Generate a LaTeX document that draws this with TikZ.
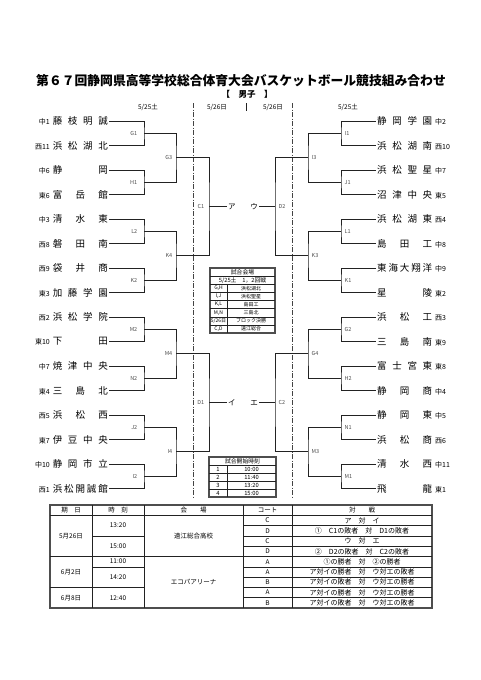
\documentclass[tikz,border=0pt]{standalone}
\usepackage{fontspec}
\setmainfont{Noto Sans CJK JP}
\usetikzlibrary{positioning}
\definecolor{ink}{HTML}{222222}
\definecolor{mute}{HTML}{4D4D4D}
\newcommand\spread[1]{\makebox[55pt][s]{#1}}
\newcommand\seed[1]{{\fontsize{7}{8}\selectfont #1}}

\begin{document}
\begin{tikzpicture}[x=1pt,y=-1pt,font=\fontsize{9.5}{11}\selectfont,
 lteam/.style={anchor=east,inner sep=1pt},
 rteam/.style={anchor=west,inner sep=1pt},
 tag/.style={font=\fontsize{5.5}{6}\selectfont,text=mute,inner sep=.5pt},
 link/.style={draw=ink,line width=.85pt},
 pool/.style={font=\fontsize{7.5}{8}\selectfont,inner sep=1pt},
 day/.style={font=\fontsize{6.5}{7}\selectfont},
 split/.style={draw=ink!85,line width=1pt,dash pattern=on 5pt off 1.5pt on 1pt off 1.5pt},
 frame/.style={draw=ink!80,line width=1.6pt},
 rule/.style={draw=ink,line width=.5pt},
 tiny/.style={font=\fontsize{5}{5.5}\selectfont,inner sep=0pt},
 small/.style={font=\fontsize{5.8}{6}\selectfont,inner sep=0pt},
 cell/.style={font=\fontsize{6.5}{7}\selectfont,inner sep=0pt},
 pair/.style={font=\fontsize{7}{8}\selectfont,inner sep=0pt}]
\path[use as bounding box] (0,0) rectangle (481,680);

\node[font=\bfseries\fontsize{12.8}{14}\selectfont] (title) at (241,81)
 {第６７回静岡県高等学校総合体育大会バスケットボール競技組み合わせ};
\node[font=\bfseries\fontsize{8.5}{10}\selectfont] (sex) at (247,94) {【\quad 男子\quad 】};
\node[day] (d1) at (148,107) {5/25土};
\node[day] (d2) at (217,107) {5/26日};
\node[day] (d3) at (273,107) {5/26日};
\node[day] (d4) at (348,107) {5/25土};
\draw[split] (193,103) -- (193,498);
\draw[split] (292,103) -- (292,498);
\draw[ink,line width=.6pt] (246,103) -- (246,111);

% teams
\foreach \i/\p/\n in {1/中1/藤\hfill 枝\hfill 明\hfill 誠,2/西11/浜\hfill 松\hfill 湖\hfill 北,
 3/中6/静\hfill 岡,4/東6/富\hfill 岳\hfill 館,5/中3/清\hfill 水\hfill 東,6/西8/磐\hfill 田\hfill 南,
 7/西9/袋\hfill 井\hfill 商,8/東3/加\hfill 藤\hfill 学\hfill 園,9/西2/浜\hfill 松\hfill 学\hfill 院,
 10/東10/下\hfill 田,11/中7/焼\hfill 津\hfill 中\hfill 央,12/東4/三\hfill 島\hfill 北,
 13/西5/浜\hfill 松\hfill 西,14/東7/伊\hfill 豆\hfill 中\hfill 央,15/中10/静\hfill 岡\hfill 市\hfill 立,
 16/西1/浜\hfill 松\hfill 開\hfill 誠\hfill 館}
 \node[lteam] (L\i) at (109,{121+(\i-1)*24.5}) {\seed{\p}\hspace{3pt}\spread{\n}};
\foreach \i/\p/\n in {1/中2/静\hfill 岡\hfill 学\hfill 園,2/西10/浜\hfill 松\hfill 湖\hfill 南,
 3/中7/浜\hfill 松\hfill 聖\hfill 星,4/東5/沼\hfill 津\hfill 中\hfill 央,5/西4/浜\hfill 松\hfill 湖\hfill 東,
 6/中8/島\hfill 田\hfill 工,7/中9/東\hfill 海\hfill 大\hfill 翔\hfill 洋,8/東2/星\hfill 陵,
 9/西3/浜\hfill 松\hfill 工,10/東9/三\hfill 島\hfill 南,11/東8/富\hfill 士\hfill 宮\hfill 東,
 12/中4/静\hfill 岡\hfill 商,13/中5/静\hfill 岡\hfill 東,14/西6/浜\hfill 松\hfill 商,
 15/中11/清\hfill 水\hfill 西,16/東1/飛\hfill 龍}
 \node[rteam] (R\i) at (376,{121+(\i-1)*24.5}) {\spread{\n}\hspace{3pt}\seed{\p}};

% left bracket
\foreach \k/\t in {1/G1,2/H1,3/L2,4/K2,5/M2,6/N2,7/J2,8/I2}{
 \pgfmathtruncatemacro\a{2*\k-1}\pgfmathtruncatemacro\b{2*\k}
 \coordinate (\t) at (144,{133.25+(\k-1)*49});
 \draw[link] (L\a.east) -| (\t) |- (L\b.east);
 \node[tag,left=6pt] (t\t) at (\t) {\t};
}
\foreach \k/\t/\u/\v in {1/G3/G1/H1,2/K4/L2/K2,3/M4/M2/N2,4/I4/J2/I2}{
 \coordinate (\t) at (176,{157.75+(\k-1)*98});
 \draw[link] (\u) -| (\t) |- (\v);
 \node[tag,left=3pt] (t\t) at (\t) {\t};
}
\foreach \k/\t/\u/\v in {1/C1/G3/K4,2/D1/M4/I4}{
 \coordinate (\t) at (209,{206.75+(\k-1)*196});
 \draw[link] (\u) -| (\t) |- (\v);
 \node[tag,left=4pt] (t\t) at (\t) {\t};
}
% right bracket
\foreach \k/\t in {1/I1,2/J1,3/L1,4/K1,5/G2,6/H2,7/N1,8/M1}{
 \pgfmathtruncatemacro\a{2*\k-1}\pgfmathtruncatemacro\b{2*\k}
 \coordinate (\t) at (341,{133.25+(\k-1)*49});
 \draw[link] (R\a.west) -| (\t) |- (R\b.west);
 \node[tag,right=3pt] (t\t) at (\t) {\t};
}
\foreach \k/\t/\u/\v in {1/I3/I1/J1,2/K3/L1/K1,3/G4/G2/H2,4/M3/N1/M1}{
 \coordinate (\t) at (308,{157.75+(\k-1)*98});
 \draw[link] (\u) -| (\t) |- (\v);
 \node[tag,right=3pt] (t\t) at (\t) {\t};
}
\foreach \k/\t/\u/\v in {1/D2/I3/K3,2/C2/G4/M3}{
 \coordinate (\t) at (275,{206.75+(\k-1)*196});
 \draw[link] (\u) -| (\t) |- (\v);
 \node[tag,right=3pt] (t\t) at (\t) {\t};
}
\node[pool,anchor=west] (pa) at (227,206.75) {ア};
\node[pool,anchor=west] (pi) at (227,402.75) {イ};
\node[pool,anchor=east] (pu) at (259,206.75) {ウ};
\node[pool,anchor=east] (pe) at (259,402.75) {エ};
\draw[link] (C1) -- (pa);
\draw[link] (D1) -- (pi);
\draw[link] (D2) -- (pu);
\draw[link] (C2) -- (pe);

% venues
\draw[frame] (210,268) rectangle (275,333);
\foreach \k in {1,...,7} \draw[rule] (210,{268+\k*8.125}) -- (275,{268+\k*8.125});
\draw[rule] (227,284.25) -- (227,333);
\node[small] (v0) at (242.5,272.06) {試合会場};
\node[small] (v1) at (242.5,280.19) {5/25土　1，2回戦};
\foreach \k/\a/\b in {0/{G,H}/浜松湖北,1/{I,J}/浜松聖星,2/{K,L}/島田工,3/{M,N}/三島北,
 4/{5/26日}/ブロック決勝,5/{C,D}/遠江総合}{
 \node[tiny] (va\k) at (218.5,{288.31+\k*8.125}) {\a};
 \node[tiny] (vb\k) at (251,{288.31+\k*8.125}) {\b};
}
% start times
\draw[frame] (209,457) rectangle (276,497);
\foreach \k in {1,...,4} \draw[rule] (209,{457+\k*8}) -- (276,{457+\k*8});
\draw[rule] (227,465) -- (227,497);
\node[small] (s0) at (242.5,461) {試合開始時刻};
\foreach \k/\t in {1/10:00,2/11:40,3/13:20,4/15:00}{
 \node[small] (sa\k) at (218,{461+\k*8}) {\k};
 \node[small] (sb\k) at (251.5,{461+\k*8}) {\t};
}

% schedule
\draw[frame] (50,505) rectangle (432,608);
\draw[rule] (50,515.3) -- (432,515.3);
\foreach \x in {92,144,243,292} \draw[rule] (\x,505) -- (\x,608);
\foreach \r in {1,...,8} \draw[rule] (243,{515.3+\r*10.3}) -- (432,{515.3+\r*10.3});
\foreach \r in {4,7} \draw[rule] (50,{515.3+\r*10.3}) -- (92,{515.3+\r*10.3});
\foreach \r in {2,4,5,7} \draw[rule] (92,{515.3+\r*10.3}) -- (144,{515.3+\r*10.3});
\draw[rule] (144,556.5) -- (243,556.5);
\foreach \x/\t [count=\n] in {71/期　日,118/時　刻,193.5/会　　場,267.5/コート,362/対　　戦}
 \node[cell] (h\n) at (\x,510.15) {\t};
\node[cell] (j1) at (71,535.9) {5月26日};
\node[cell] (j2) at (71,571.95) {6月2日};
\node[cell] (j3) at (71,597.7) {6月8日};
\foreach \y/\t [count=\n] in {525.6/13:20,546.2/15:00,561.65/11:00,577.1/14:20,597.7/12:40}
 \node[cell] (k\n) at (118,\y) {\t};
\node[cell] (hall1) at (193.5,535.9) {遠江総合高校};
\node[cell] (hall2) at (193.5,582.25) {エコパアリーナ};
\foreach \r/\c/\m in {1/C/ア　対　イ,2/D/①　C1の敗者　対　D1の敗者,3/C/ウ　対　エ,
 4/D/②　D2の敗者　対　C2の敗者,5/A/①の勝者　対　②の勝者,6/A/ア対イの勝者　対　ウ対エの敗者,
 7/B/ア対イの敗者　対　ウ対エの勝者,8/A/ア対イの勝者　対　ウ対エの勝者,9/B/ア対イの敗者　対　ウ対エの敗者}{
 \node[cell] (ct\r) at (267.5,{515.3+(\r-0.5)*10.3}) {\c};
 \node[pair] (vs\r) at (362,{515.3+(\r-0.5)*10.3}) {\m};
}
\end{tikzpicture}
\end{document}
